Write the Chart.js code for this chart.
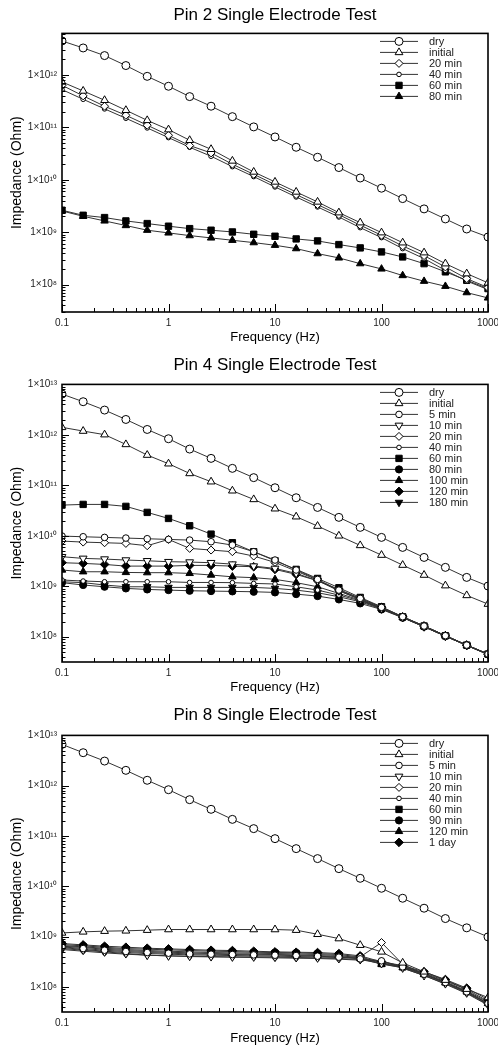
<!DOCTYPE html>
<html>
<head>
<meta charset="utf-8">
<script src="https://cdn.jsdelivr.net/npm/chart.js@4/dist/chart.umd.min.js"></script>
<style>
body { margin: 0; background: #fff; width: 498px; }
canvas { display: block; }
</style>
</head>
<body>
<canvas id="pin2" width="498" height="345"></canvas>
<canvas id="pin4" width="498" height="350"></canvas>
<canvas id="pin8" width="498" height="353"></canvas>
<script>
// frequencies (Hz), 5 points per decade
var freqHz = [0.1, 0.158, 0.251, 0.398, 0.631, 1, 1.58, 2.51, 3.98, 6.31, 10, 15.8, 25.1, 39.8, 63.1, 100, 158, 251, 398, 631, 1000];

var xTicks = [0.1, 1, 10, 100, 1000];
var xTickLabels = ['0.1', '1', '10', '100', '1000'];
var yTicks = [1e8, 1e9, 1e10, 1e11, 1e12, 1e13];
var yTickLabels = ['1×10⁸', '1×10⁹', '1×10¹⁰', '1×10¹¹', '1×10¹²', '1×10¹³'];

// Pin 2
var pin2Dry = [4.45e12, 3.27e12, 2.34e12, 1.51e12, 9.4e11, 6.08e11, 3.86e11, 2.53e11, 1.6e11, 1.02e11, 6.56e10, 4.17e10, 2.69e10, 1.71e10, 1.08e10, 6.9e9, 4.37e9, 2.78e9, 1.79e9, 1.15e9, 8.1e8];
var pin2Initial = [7.35e11, 4.95e11, 3.29e11, 2.12e11, 1.36e11, 9.06e10, 5.67e10, 3.82e10, 2.29e10, 1.41e10, 9.1e9, 5.86e9, 3.78e9, 2.36e9, 1.52e9, 9.8e8, 6.3e8, 4.07e8, 2.51e8, 1.62e8, 1.08e8];
var pin2Min20 = [6.35e11, 3.98e11, 2.53e11, 1.7e11, 1.1e11, 7.06e10, 4.49e10, 3.25e10, 1.98e10, 1.27e10, 8.09e9, 5.21e9, 3.36e9, 2.16e9, 1.36e9, 8.73e8, 5.47e8, 3.57e8, 2.17e8, 1.3e8, 8.77e7];
var pin2Min40 = [5.25e11, 3.43e11, 2.25e11, 1.49e11, 9.75e10, 6.37e10, 4.17e10, 2.81e10, 1.78e10, 1.15e10, 7.3e9, 4.7e9, 3.03e9, 1.95e9, 1.22e9, 7.88e8, 4.86e8, 3.13e8, 1.87e8, 1.17e8, 8.04e7];
var pin2Min60 = [2.62e9, 2.1e9, 1.9e9, 1.64e9, 1.46e9, 1.3e9, 1.17e9, 1.09e9, 1.01e9, 9.12e8, 8.36e8, 7.43e8, 6.81e8, 5.8e8, 5.01e8, 4.2e8, 3.37e8, 2.51e8, 1.75e8, 1.21e8, 8.4e7];
var pin2Min80 = [2.54e9, 2.01e9, 1.64e9, 1.34e9, 1.09e9, 9.68e8, 8.61e8, 7.77e8, 7.01e8, 6.32e8, 5.63e8, 4.86e8, 3.9e8, 3.23e8, 2.51e8, 1.99e8, 1.49e8, 1.16e8, 9.3e7, 7.03e7, 5.57e7];

// Pin 4
var pin4Dry = [6.43e12, 4.54e12, 3.1e12, 2.02e12, 1.28e12, 8.38e11, 5.23e11, 3.42e11, 2.17e11, 1.42e11, 8.96e10, 5.68e10, 3.65e10, 2.32e10, 1.47e10, 9.3e9, 5.89e9, 3.73e9, 2.37e9, 1.5e9, 1.01e9];
var pin4Initial = [1.41e12, 1.19e12, 1.01e12, 6.47e11, 3.98e11, 2.68e11, 1.72e11, 1.18e11, 7.81e10, 5.26e10, 3.44e10, 2.39e10, 1.56e10, 1.0e10, 6.45e9, 4.15e9, 2.63e9, 1.67e9, 1.03e9, 6.59e8, 4.44e8];
var pin4Min5 = [9.88e9, 9.58e9, 9.3e9, 9.02e9, 8.75e9, 8.48e9, 8.23e9, 7.63e9, 6.55e9, 4.84e9, 3.31e9, 2.1e9, 1.37e9, 8.4e8, 5.75e8, 3.82e8, 2.49e8, 1.63e8, 1.05e8, 6.83e7, 4.54e7];
var pin4Min10 = [3.85e9, 3.57e9, 3.46e9, 3.31e9, 3.2e9, 3.07e9, 3.02e9, 2.93e9, 2.75e9, 2.51e9, 2.26e9, 1.8e9, 1.29e9, 8.16e8, 5.49e8, 3.64e8, 2.42e8, 1.58e8, 1.03e8, 6.74e7, 4.46e7];
var pin4Min20 = [7.86e9, 7.51e9, 7.29e9, 7.07e9, 6.36e9, 8.48e9, 5.63e9, 5.22e9, 4.84e9, 3.97e9, 2.97e9, 2.0e9, 1.33e9, 8.16e8, 5.49e8, 3.64e8, 2.42e8, 1.58e8, 1.03e8, 6.74e7, 4.46e7];
var pin4Min40 = [1.33e9, 1.27e9, 1.23e9, 1.23e9, 1.23e9, 1.23e9, 1.19e9, 1.19e9, 1.18e9, 1.14e9, 1.11e9, 9.78e8, 8.4e8, 6.69e8, 5.17e8, 3.64e8, 2.42e8, 1.63e8, 1.05e8, 6.83e7, 4.54e7];
var pin4Min60 = [4.06e10, 4.19e10, 4.19e10, 3.83e10, 2.91e10, 2.21e10, 1.58e10, 1.08e10, 7.29e9, 4.83e9, 3.21e9, 2.16e9, 1.43e9, 9.35e8, 6.01e8, 3.93e8, 2.49e8, 1.63e8, 1.05e8, 6.84e7, 4.54e7];
var pin4Min80 = [1.18e9, 1.06e9, 9.78e8, 9.07e8, 8.66e8, 8.4e8, 8.16e8, 8.03e8, 7.92e8, 7.79e8, 7.56e8, 7.0e8, 6.39e8, 5.49e8, 4.58e8, 3.48e8, 2.38e8, 1.58e8, 1.03e8, 6.74e7, 4.46e7];
var pin4Min100 = [2.1e9, 1.94e9, 1.94e9, 1.88e9, 1.86e9, 1.86e9, 1.8e9, 1.67e9, 1.54e9, 1.48e9, 1.37e9, 1.18e9, 9.78e8, 7.22e8, 5.33e8, 3.64e8, 2.42e8, 1.63e8, 1.05e8, 6.83e7, 4.54e7];
var pin4Min120 = [2.93e9, 2.84e9, 2.71e9, 2.51e9, 2.51e9, 2.51e9, 2.59e9, 2.59e9, 2.51e9, 2.44e9, 2.16e9, 1.72e9, 1.29e9, 8.66e8, 5.75e8, 3.82e8, 2.49e8, 1.63e8, 1.05e8, 6.83e7, 4.54e7];
var pin4Min180 = [1.23e9, 1.18e9, 1.06e9, 9.78e8, 9.78e8, 9.5e8, 9.5e8, 9.5e8, 9.5e8, 9.5e8, 9.07e8, 8.4e8, 7.44e8, 6.2e8, 4.94e8, 3.54e8, 2.42e8, 1.58e8, 1.03e8, 6.74e7, 4.46e7];

// Pin 8
var pin8Dry = [6.63e12, 4.53e12, 3.09e12, 2.02e12, 1.28e12, 8.32e11, 5.27e11, 3.39e11, 2.14e11, 1.4e11, 8.85e10, 5.6e10, 3.55e10, 2.24e10, 1.44e10, 9.12e9, 5.78e9, 3.66e9, 2.28e9, 1.49e9, 9.84e8];
var pin8Initial = [1.18e9, 1.24e9, 1.28e9, 1.3e9, 1.34e9, 1.38e9, 1.38e9, 1.38e9, 1.38e9, 1.38e9, 1.38e9, 1.34e9, 1.11e9, 9.12e8, 6.73e8, 4.96e8, 3.0e8, 1.99e8, 1.36e8, 9.0e7, 6.14e7];
var pin8Min5 = [6.23e8, 5.77e8, 5.35e8, 5.04e8, 4.81e8, 4.67e8, 4.52e8, 4.46e8, 4.39e8, 4.32e8, 4.26e8, 4.19e8, 4.07e8, 3.89e8, 3.6e8, 3.29e8, 2.5e8, 1.78e8, 1.22e8, 7.95e7, 4.67e7];
var pin8Min10 = [5.77e8, 5.35e8, 4.96e8, 4.59e8, 4.26e8, 4.13e8, 4.07e8, 4.0e8, 3.94e8, 3.94e8, 3.89e8, 3.83e8, 3.77e8, 3.66e8, 3.49e8, 2.91e8, 2.38e8, 1.68e8, 1.16e8, 7.6e7, 4.46e7];
var pin8Min20 = [6.05e8, 5.52e8, 5.11e8, 4.81e8, 4.59e8, 4.46e8, 4.32e8, 4.26e8, 4.19e8, 4.13e8, 4.07e8, 4.0e8, 3.94e8, 3.83e8, 3.94e8, 7.6e8, 2.82e8, 1.78e8, 1.22e8, 7.95e7, 4.67e7];
var pin8Min40 = [5.52e8, 5.11e8, 4.74e8, 4.46e8, 4.26e8, 4.13e8, 4.0e8, 3.94e8, 3.89e8, 3.83e8, 3.77e8, 3.71e8, 3.66e8, 3.55e8, 3.39e8, 3.29e8, 2.35e8, 1.68e8, 1.13e8, 7.37e7, 4.32e7];
var pin8Min60 = [6.63e8, 6.23e8, 5.86e8, 5.52e8, 5.27e8, 5.11e8, 4.96e8, 4.81e8, 4.74e8, 4.67e8, 4.59e8, 4.52e8, 4.39e8, 4.19e8, 3.77e8, 2.91e8, 2.5e8, 1.84e8, 1.26e8, 8.33e7, 4.96e7];
var pin8Min90 = [6.93e8, 6.52e8, 6.14e8, 5.77e8, 5.6e8, 5.44e8, 5.27e8, 5.11e8, 5.04e8, 4.88e8, 4.81e8, 4.74e8, 4.59e8, 4.39e8, 3.94e8, 3.0e8, 2.57e8, 1.9e8, 1.32e8, 8.85e7, 5.19e7];
var pin8Min120 = [6.43e8, 6.05e8, 5.6e8, 5.27e8, 5.04e8, 4.88e8, 4.74e8, 4.59e8, 4.52e8, 4.46e8, 4.39e8, 4.32e8, 4.19e8, 4.0e8, 3.66e8, 2.82e8, 2.42e8, 1.76e8, 1.2e8, 7.95e7, 4.67e7];
var pin8Day1 = [7.26e8, 6.83e8, 6.43e8, 6.14e8, 5.86e8, 5.69e8, 5.52e8, 5.35e8, 5.27e8, 5.11e8, 4.96e8, 4.88e8, 4.81e8, 4.59e8, 4.13e8, 3.14e8, 2.65e8, 1.99e8, 1.4e8, 9.41e7, 5.6e7];

// marker looks
var mk = {
  bigCircle:  { pointStyle: 'circle',   r: 4,   fill: '#fff', rot: 0 },
  midCircle:  { pointStyle: 'circle',   r: 3.3, fill: '#fff', rot: 0 },
  smallCircle:{ pointStyle: 'circle',   r: 2.3, fill: '#fff', rot: 0 },
  triUp:      { pointStyle: 'triangle', r: 4.5, fill: '#fff', rot: 0 },
  triDown:    { pointStyle: 'triangle', r: 4.5, fill: '#fff', rot: 180 },
  diamond:    { pointStyle: 'rectRot',  r: 4,   fill: '#fff', rot: 0 },
  square:     { pointStyle: 'rect',     r: 4.5, fill: '#000', rot: 0 },
  dot:        { pointStyle: 'circle',   r: 3.6, fill: '#000', rot: 0 },
  triUpFill:  { pointStyle: 'triangle', r: 4.3, fill: '#000', rot: 0 },
  triDownFill:{ pointStyle: 'triangle', r: 4.3, fill: '#000', rot: 180 },
  diamondFill:{ pointStyle: 'rectRot',  r: 4.3, fill: '#000', rot: 0 }
};

function series(label, vals, m) {
  return {
    label: label,
    data: freqHz.map(function (f, i) { return { x: f, y: vals[i] }; }),
    borderColor: '#333',
    borderWidth: 1,
    pointStyle: m.pointStyle,
    pointRotation: m.rot,
    pointRadius: m.r,
    pointBackgroundColor: m.fill,
    pointBorderColor: '#000',
    pointBorderWidth: 1,
    tension: 0,
    marker: m
  };
}

function drawMarker(ctx, m, x, y) {
  ctx.fillStyle = m.fill;
  ctx.strokeStyle = '#000';
  ctx.lineWidth = 1;
  if (Chart.helpers && Chart.helpers.drawPoint) {
    Chart.helpers.drawPoint(ctx, { pointStyle: m.pointStyle, rotation: m.rot, radius: m.r, borderWidth: 1 }, x, y);
  } else {
    ctx.beginPath();
    ctx.arc(x, y, m.r, 0, Math.PI * 2);
    ctx.fill();
    ctx.stroke();
  }
}

// frame, inward ticks and the legend
var decor = {
  id: 'decor',
  afterDatasetsDraw: function (chart) {
    var ctx = chart.ctx, a = chart.chartArea;
    var xs = chart.scales.x, ys = chart.scales.y;
    ctx.save();
    ctx.strokeStyle = '#000';
    ctx.lineWidth = 1;
    ctx.beginPath();
    var e, m, v, p, len;
    for (e = Math.floor(Math.log10(xs.min)); e <= Math.ceil(Math.log10(xs.max)); e++) {
      for (m = 1; m < 10; m++) {
        v = m * Math.pow(10, e);
        if (v < xs.min * 0.999 || v > xs.max * 1.001) continue;
        p = Math.round(xs.getPixelForValue(v)) + 0.5;
        len = m === 1 ? 8 : 4;
        ctx.moveTo(p, a.bottom);
        ctx.lineTo(p, a.bottom - len);
      }
    }
    for (e = Math.floor(Math.log10(ys.min)); e <= Math.ceil(Math.log10(ys.max)); e++) {
      for (m = 1; m < 10; m++) {
        v = m * Math.pow(10, e);
        if (v < ys.min || v > ys.max) continue;
        p = Math.round(ys.getPixelForValue(v)) + 0.5;
        len = m === 1 ? 7 : 3.5;
        ctx.moveTo(a.left, p);
        ctx.lineTo(a.left + len, p);
      }
    }
    ctx.stroke();
    ctx.lineWidth = 1.6;
    ctx.strokeRect(a.left, a.top, a.right - a.left, a.bottom - a.top);

    // legend
    ctx.font = '11px "Liberation Sans", Arial, sans-serif';
    ctx.textBaseline = 'middle';
    ctx.textAlign = 'left';
    chart.data.datasets.forEach(function (ds, i) {
      var y = a.top + 8 + i * 11;
      ctx.strokeStyle = '#333';
      ctx.lineWidth = 1;
      ctx.beginPath();
      ctx.moveTo(a.right - 108, y);
      ctx.lineTo(a.right - 70, y);
      ctx.stroke();
      drawMarker(ctx, ds.marker, a.right - 89, y);
      ctx.fillStyle = '#222';
      ctx.fillText(ds.label, a.right - 59, y + 0.5);
    });
    ctx.restore();
  }
};

function makeChart(id, title, yMin, yMax, datasets, lay) {
  var ctx = document.getElementById(id).getContext('2d');
  return new Chart(ctx, {
    type: 'line',
    data: { datasets: datasets },
    options: {
      responsive: false,
      animation: false,
      devicePixelRatio: 1,
      layout: { padding: { left: 0, right: 10, top: 0, bottom: lay.bottomPad } },
      plugins: {
        legend: { display: false },
        tooltip: { enabled: false },
        title: {
          display: true,
          text: title,
          fullSize: false,
          color: '#000',
          font: { family: '"Liberation Sans", Arial, sans-serif', size: 17, weight: 'normal' },
          padding: { top: lay.titleTop, bottom: lay.titleBottom }
        }
      },
      scales: {
        x: {
          type: 'logarithmic',
          min: 0.1,
          max: 1000,
          grid: { display: false, drawTicks: false },
          border: { display: false },
          afterBuildTicks: function (s) { s.ticks = xTicks.map(function (t) { return { value: t }; }); },
          afterFit: function (s) { s.height = lay.xHeight; s.paddingLeft = 0; s.paddingRight = 0; },
          ticks: {
            autoSkip: false,
            maxRotation: 0,
            padding: 5,
            color: '#222',
            font: { family: '"Liberation Sans", Arial, sans-serif', size: 10 },
            callback: function (v, i) { return xTickLabels[i]; }
          },
          title: {
            display: true,
            text: 'Frequency (Hz)',
            color: '#000',
            font: { family: '"Liberation Sans", Arial, sans-serif', size: 13 },
            padding: { top: 0, bottom: lay.xTitleBottom }
          }
        },
        y: {
          type: 'logarithmic',
          min: yMin,
          max: yMax,
          grid: { display: false, drawTicks: false },
          border: { display: false },
          afterBuildTicks: function (s) {
            s.ticks = yTicks.filter(function (t) { return t >= yMin && t <= yMax; }).map(function (t) { return { value: t }; });
          },
          afterFit: function (s) { s.width = 62; s.paddingTop = 0; s.paddingBottom = 0; },
          ticks: {
            autoSkip: false,
            padding: 5,
            color: '#222',
            font: { family: '"Liberation Sans", Arial, sans-serif', size: 10 },
            callback: function (v) { return yTickLabels[yTicks.indexOf(v)]; }
          },
          title: {
            display: true,
            text: 'Impedance (Ohm)',
            color: '#000',
            font: { family: '"Liberation Sans", Arial, sans-serif', size: 14 },
            padding: { top: 9, bottom: 0 }
          }
        }
      }
    },
    plugins: [decor]
  });
}

makeChart('pin2', 'Pin 2 Single Electrode Test', 3e7, 6.2e12, [
  series('dry', pin2Dry, mk.bigCircle),
  series('initial', pin2Initial, mk.triUp),
  series('20 min', pin2Min20, mk.diamond),
  series('40 min', pin2Min40, mk.smallCircle),
  series('60 min', pin2Min60, mk.square),
  series('80 min', pin2Min80, mk.triUpFill)
], { titleTop: 5, titleBottom: 8, xHeight: 33, xTitleBottom: 0, bottomPad: 0 });

makeChart('pin4', 'Pin 4 Single Electrode Test', 3.16e7, 1e13, [
  series('dry', pin4Dry, mk.bigCircle),
  series('initial', pin4Initial, mk.triUp),
  series('5 min', pin4Min5, mk.midCircle),
  series('10 min', pin4Min10, mk.triDown),
  series('20 min', pin4Min20, mk.diamond),
  series('40 min', pin4Min40, mk.smallCircle),
  series('60 min', pin4Min60, mk.square),
  series('80 min', pin4Min80, mk.dot),
  series('100 min', pin4Min100, mk.triUpFill),
  series('120 min', pin4Min120, mk.diamondFill),
  series('180 min', pin4Min180, mk.triDownFill)
], { titleTop: 10, titleBottom: 9, xHeight: 33, xTitleBottom: 0, bottomPad: 0 });

makeChart('pin8', 'Pin 8 Single Electrode Test', 3.16e7, 1e13, [
  series('dry', pin8Dry, mk.bigCircle),
  series('initial', pin8Initial, mk.triUp),
  series('5 min', pin8Min5, mk.midCircle),
  series('10 min', pin8Min10, mk.triDown),
  series('20 min', pin8Min20, mk.diamond),
  series('40 min', pin8Min40, mk.smallCircle),
  series('60 min', pin8Min60, mk.square),
  series('90 min', pin8Min90, mk.dot),
  series('120 min', pin8Min120, mk.triUpFill),
  series('1 day', pin8Day1, mk.diamondFill)
], { titleTop: 10, titleBottom: 10, xHeight: 36, xTitleBottom: 2, bottomPad: 0 });
</script>
</body>
</html>
